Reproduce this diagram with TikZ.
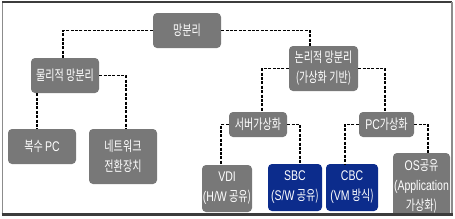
\documentclass[tikz,border=0pt]{standalone}
\usepackage{fontspec}
\newfontfamily\krfont[FakeStretch=0.72]{Noto Sans CJK KR}
\newfontfamily\latn[FakeStretch=0.75]{Liberation Sans}
\definecolor{boxgray}{RGB}{120,120,120}
\definecolor{boxblue}{RGB}{12,44,140}
\definecolor{framedark}{RGB}{60,60,60}
\definecolor{framegray}{RGB}{140,140,140}
\tikzset{
  gbox/.style={fill=boxgray, rounded corners=4pt, text=white, inner sep=0pt, align=center,
    font={\krfont\fontsize{14}{20}\selectfont}},
  bbox/.style={gbox, fill=boxblue},
  link/.style={draw=black, line width=1.5pt, dash pattern=on 3pt off 1.4pt}
}
\begin{document}
\begin{tikzpicture}[x=1pt,y=-1pt]
\useasboundingbox (0,0) rectangle (455,218);
\fill[white] (0,0) rectangle (455,218);
% nodes
\node[gbox, minimum width=68pt, minimum height=35pt] (root) at (187,30.5) {망분리};
\node[gbox, minimum width=68pt, minimum height=35pt] (phys) at (65,75.5) {물리적 망분리};
\node[gbox, minimum width=69pt, minimum height=45pt] (logi) at (323.5,68.5) {논리적 망분리\\(가상화 기반)};
\node[gbox, minimum width=68pt, minimum height=35pt] (multi) at (42,146.5) {복수 {\latn PC}};
\node[gbox, minimum width=68pt, minimum height=55pt] (net) at (123,156.5) {네트워크\\전환장치};
\node[gbox, minimum width=58pt, minimum height=25pt] (server) at (258,124.5) {서버가상화};
\node[gbox, minimum width=55pt, minimum height=25pt] (pcv) at (386.5,124.5) {{\latn PC}가상화};
\node[gbox, minimum width=50pt, minimum height=47pt] (vdi) at (227,188.5) {{\latn VDI}\\{\latn (H/W} 공유)};
\node[bbox, minimum width=54pt, minimum height=47pt] (sbc) at (295,187.5) {{\latn SBC}\\{\latn (S/W} 공유)};
\node[bbox, minimum width=52pt, minimum height=47pt] (cbc) at (352,187.5) {{\latn CBC}\\{\latn (VM} 방식)};
\begin{scope}
\clip (0,0) rectangle (455,214);
\node[gbox, minimum width=57pt, minimum height=66pt] (os) at (421.5,186) {{\latn OS}공유\\{\latn (Application}\\가상화)};
\end{scope}
% connectors
\draw[link] (root.west) -| ([xshift=-2pt]phys.north);
\draw[link] (root.east) -| ([xshift=-13.5pt]logi.north);
\draw[link] (phys.east) -| ([xshift=3pt]net.north);
\draw[link] ([xshift=-28pt]phys.south) -- ([xshift=-28pt]phys.south |- multi.north);
\draw[link] (logi.west) -| ([xshift=4pt]server.north);
\draw[link] (logi.east) -| ([xshift=-1.5pt]pcv.north);
\draw[link] (server.west) -| ([xshift=-6pt]vdi.north);
\draw[link] (server.east) -| ([xshift=5pt]sbc.north);
\draw[link] (pcv.west) -| ([xshift=-7pt]cbc.north);
\draw[link] (pcv.east) -| ([xshift=6.5pt]os.north);
% frame
\draw[framegray, line width=1pt] (2,2) -- (2,215);
\draw[framedark, line width=1.2pt] (2,2) -- (452,2);
\draw[framegray, line width=1.5pt] (452,2) -- (452,215);
\draw[framedark, line width=2.5pt] (1.5,214.5) -- (453,214.5);
\end{tikzpicture}
\end{document}
